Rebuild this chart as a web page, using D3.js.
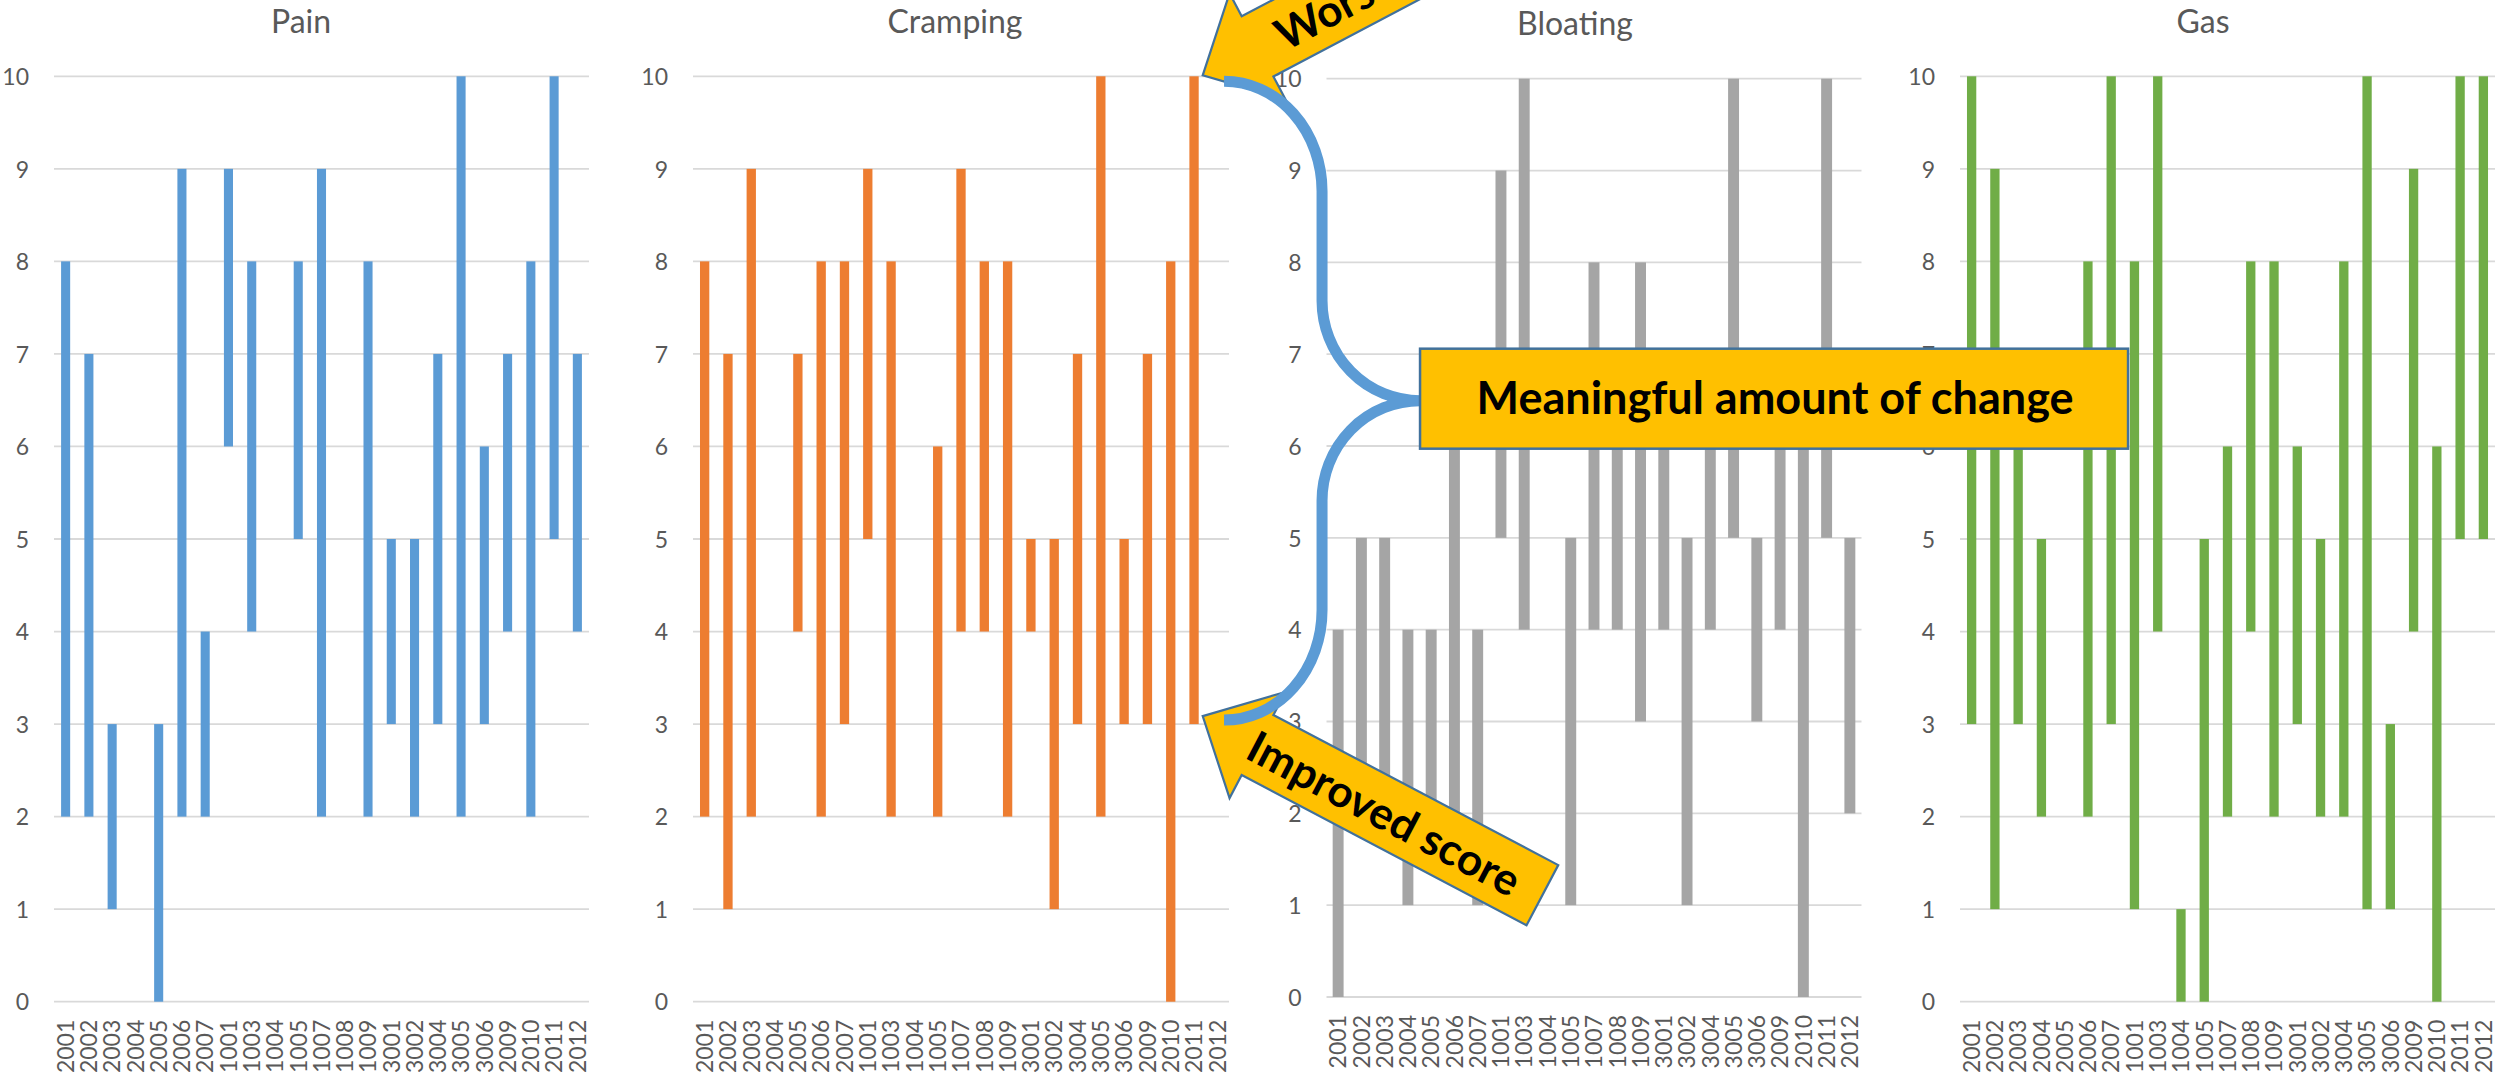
<!DOCTYPE html>
<html>
<head>
<meta charset="utf-8">
<script src="https://cdn.jsdelivr.net/npm/d3@7"></script>
<style>
  html, body { margin: 0; padding: 0; background: #ffffff; }
  svg { display: block; }
  text { font-family: Lato, "Open Sans", "DejaVu Sans", sans-serif; }
</style>
</head>
<body>
<svg id="chart" width="2496" height="1076"></svg>
<script>
// Participants (by ID) and their score range on each symptom scale (0-10).
const categories = ["2001","2002","2003","2004","2005","2006","2007","1001","1003","1004","1005","1007","1008","1009","3001","3002","3004","3005","3006","2009","2010","2011","2012"];

const painLow      = [2, 2, 1, null, 0, 2, 2, 6, 4, null, 5, 2, null, 2, 3, 2, 3, 2, 3, 4, 2, 5, 4];
const painHigh     = [8, 7, 3, null, 3, 9, 4, 9, 8, null, 8, 9, null, 8, 5, 5, 7, 10, 6, 7, 8, 10, 7];

const crampingLow  = [2, 1, 2, null, 4, 2, 3, 5, 2, null, 2, 4, 4, 2, 4, 1, 3, 2, 3, 3, 0, 3, null];
const crampingHigh = [8, 7, 9, null, 7, 8, 8, 9, 8, null, 6, 9, 8, 8, 5, 5, 7, 10, 5, 7, 8, 10, null];

const bloatingLow  = [0, 2, 2, 1, 2, 2, 1, 5, 4, null, 1, 4, 4, 3, 4, 1, 4, 5, 3, 4, 0, 5, 2];
const bloatingHigh = [4, 5, 5, 4, 4, 6, 4, 9, 10, null, 5, 8, 7, 8, 6, 5, 7, 10, 5, 6, 7, 10, 5];

const gasLow       = [3, 1, 3, 2, null, 2, 3, 1, 4, 0, 0, 2, 4, 2, 3, 2, 2, 1, 1, 4, 0, 5, 5];
const gasHigh      = [10, 9, 6, 5, null, 8, 10, 8, 10, 1, 5, 6, 8, 8, 6, 5, 8, 10, 3, 9, 6, 10, 10];

const yTicks = [0, 1, 2, 3, 4, 5, 6, 7, 8, 9, 10];

// Callout: the Cramping range of participant 2011 illustrates a meaningful change.
const calloutPanel = "Cramping";
const calloutCategory = "2011";
const calloutLow = 3;
const calloutHigh = 10;

// Panel layout (one small chart per symptom)
const panels = [
  { title: "Pain",     low: painLow,     high: painHigh,     color: "#5B9BD5", x0: 54,     x1: 589,    yTop: 76.3, yBot: 1001.7, titleX: 301,  titleY: 33, gap: 0.61 },
  { title: "Cramping", low: crampingLow, high: crampingHigh, color: "#ED7D31", x0: 693,    x1: 1229,   yTop: 76.3, yBot: 1001.7, titleX: 955,  titleY: 33, gap: 0.60 },
  { title: "Bloating", low: bloatingLow, high: bloatingHigh, color: "#A5A5A5", x0: 1326.5, x1: 1861.5, yTop: 78.7, yBot: 997,    titleX: 1575, titleY: 35, gap: 0.53 },
  { title: "Gas",      low: gasLow,      high: gasHigh,      color: "#70AD47", x0: 1960,   x1: 2495,   yTop: 76.3, yBot: 1001.7, titleX: 2203, titleY: 33, gap: 0.60 }
];

const svg = d3.select("#chart");
const textColor = "#595959";
const gridColor = "#D9D9D9";

const scales = {};

panels.forEach(p => {
  const g = svg.append("g").attr("class", "panel");

  const x = d3.scaleBand()
    .domain(categories)
    .range([p.x0, p.x1])
    .paddingInner(p.gap)
    .paddingOuter(p.gap / 2);

  const y = d3.scaleLinear().domain([0, 10]).range([p.yBot, p.yTop]);
  scales[p.title] = { x, y };

  // Horizontal gridlines
  g.append("g").selectAll("line")
    .data(yTicks)
    .join("line")
    .attr("x1", p.x0).attr("x2", p.x1)
    .attr("y1", d => y(d)).attr("y2", d => y(d))
    .attr("stroke", gridColor)
    .attr("stroke-width", 1.8);

  // Value axis labels
  const yAxis = d3.axisLeft(y).tickValues(yTicks).tickSize(0).tickPadding(25);
  const ya = g.append("g").attr("transform", `translate(${p.x0},0)`).call(yAxis);
  ya.select(".domain").remove();
  ya.selectAll("text")
    .attr("fill", textColor)
    .attr("font-size", 23)
    .attr("dy", "0.36em")
    .style("font-family", "Lato, 'Open Sans', sans-serif");

  // Category axis labels, rotated
  const xAxis = d3.axisBottom(x).tickSize(0).tickPadding(0);
  const xa = g.append("g").attr("transform", `translate(0,${p.yBot})`).call(xAxis);
  xa.select(".domain").remove();
  xa.selectAll("text")
    .attr("fill", textColor)
    .attr("font-size", 23)
    .attr("text-anchor", "end")
    .attr("transform", "rotate(-90)")
    .attr("x", -18)
    .attr("y", 0)
    .attr("dy", "0.36em")
    .style("font-family", "Lato, 'Open Sans', sans-serif");

  // Floating range bars (low to high score)
  const rows = categories.map((c, i) => ({ cat: c, low: p.low[i], high: p.high[i] }))
    .filter(d => d.low !== null && d.high !== null);

  g.append("g").selectAll("rect")
    .data(rows)
    .join("rect")
    .attr("x", d => x(d.cat))
    .attr("width", x.bandwidth())
    .attr("y", d => y(d.high))
    .attr("height", d => y(d.low) - y(d.high))
    .attr("fill", p.color);

  // Panel title
  g.append("text")
    .attr("x", p.titleX)
    .attr("y", p.titleY)
    .attr("text-anchor", "middle")
    .attr("font-size", 32)
    .attr("fill", textColor)
    .text(p.title);
});

// ---- Callout annotations ----
const cs = scales[calloutPanel];
const barCx = cs.x(calloutCategory) + cs.x.bandwidth() / 2;
const barR = cs.x(calloutCategory) + cs.x.bandwidth();
const yHi = cs.y(calloutHigh);
const yLo = cs.y(calloutLow);

const calloutFill = "#FFC000";
const calloutStroke = "#41719C";
const ann = svg.append("g").attr("class", "annotations");

// Block arrow pointing at (0,0), shaft running along +x
function blockArrow(tipX, tipY, angle, label) {
  const headLen = 62, headHalf = 60, shaftHalf = 34, length = 384;
  const pts = [[0, 0], [headLen, -headHalf], [headLen, -shaftHalf], [length, -shaftHalf],
               [length, shaftHalf], [headLen, shaftHalf], [headLen, headHalf]];
  const a = ann.append("g").attr("transform", `translate(${tipX},${tipY}) rotate(${angle})`);
  a.append("polygon")
    .attr("points", pts.map(q => q.join(",")).join(" "))
    .attr("fill", calloutFill)
    .attr("stroke", calloutStroke)
    .attr("stroke-width", 2.2)
    .attr("stroke-linejoin", "miter");
  a.append("text")
    .attr("x", 206)
    .attr("y", 2)
    .attr("text-anchor", "middle")
    .attr("dy", "0.35em")
    .attr("font-size", 44)
    .attr("font-weight", 700)
    .attr("fill", "#000000")
    .text(label);
}

blockArrow(barR + 4, yHi - 1, -27.8, "Worse score");
blockArrow(barR + 4, yLo - 8, 27.8, "Improved score");

// Curly brace spanning the range
const bx0 = barCx + 30, bx1 = bx0 + 98, bx2 = bx1 + 98;
const bTop = yHi + 5, bBot = yLo - 4, bMid = (bTop + bBot) / 2;
const bracePath = [
  `M${bx0},${bTop}`,
  `A98,110 0 0 1 ${bx1},${bTop + 110}`,
  `L${bx1},${bMid - 100}`,
  `A98,100 0 0 0 ${bx2},${bMid}`,
  `A98,100 0 0 0 ${bx1},${bMid + 100}`,
  `L${bx1},${bBot - 110}`,
  `A98,110 0 0 1 ${bx0},${bBot}`
].join(" ");

ann.append("path")
  .attr("d", bracePath)
  .attr("fill", "none")
  .attr("stroke", "#5B9BD5")
  .attr("stroke-width", 11)
  .attr("stroke-linecap", "butt");

// Label box
const boxW = 708, boxH = 100;
ann.append("rect")
  .attr("x", bx2)
  .attr("y", bMid - boxH / 2 - 2)
  .attr("width", boxW)
  .attr("height", boxH)
  .attr("fill", calloutFill)
  .attr("stroke", calloutStroke)
  .attr("stroke-width", 2.5);

ann.append("text")
  .attr("x", bx2 + boxW / 2 + 1)
  .attr("y", bMid - 2)
  .attr("dy", "0.35em")
  .attr("text-anchor", "middle")
  .attr("font-size", 45)
  .attr("font-weight", 700)
  .attr("fill", "#000000")
  .text("Meaningful amount of change");
</script>
</body>
</html>
